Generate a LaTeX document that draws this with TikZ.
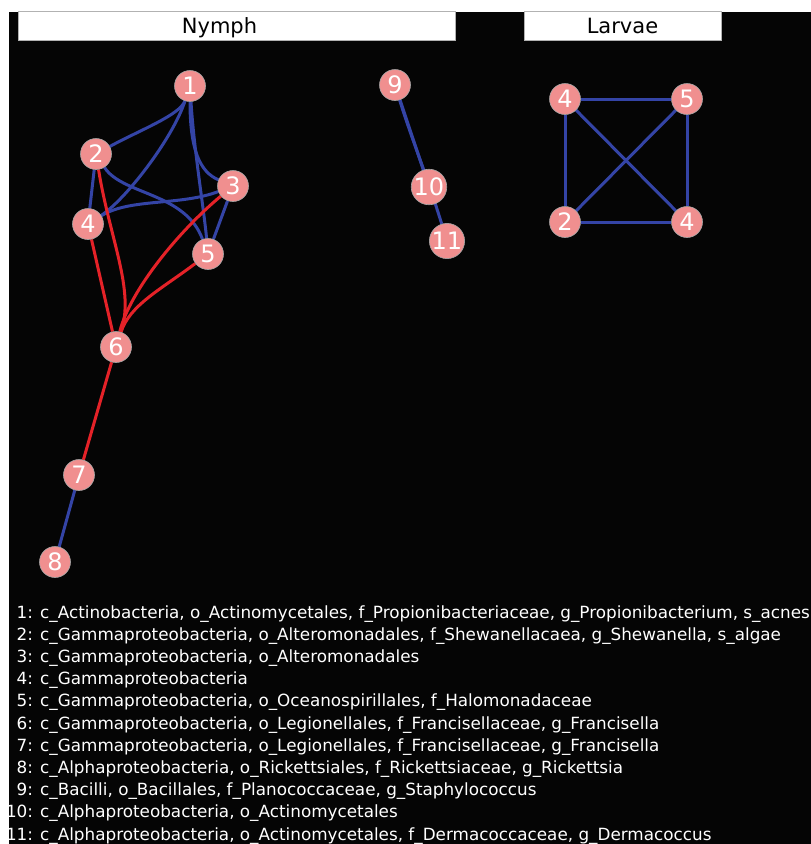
\documentclass[tikz,border=0pt]{standalone}
\usepackage{fontspec}
\setmainfont{DejaVu Sans}
\begin{document}
\begin{tikzpicture}[x=1pt,y=-1pt,
  otu/.style={circle,fill=nodepink,draw=gray!70,line width=0.6pt,minimum size=31pt,inner sep=0pt,
    text=white,font=\fontsize{24}{24}\selectfont},
  posedge/.style={draw=edgeblue,line width=3pt},
  negedge/.style={draw=edgered,line width=3pt},
  header/.style={fill=white,draw=gray!60,line width=0.5pt},
  legend/.style={anchor=base west,inner sep=0pt,text=white,font=\fontsize{16.8}{16.8}\selectfont}]
\definecolor{nodepink}{HTML}{F08F8F}
\definecolor{edgeblue}{HTML}{3444A6}
\definecolor{edgered}{HTML}{E52228}
\pgfdeclarelayer{edges}
\pgfdeclarelayer{back}
\pgfsetlayers{back,edges,main}

\useasboundingbox (0,0) rectangle (811,844);

\begin{pgfonlayer}{back}
  \fill[white] (0,0) rectangle (811,844);
  \fill[black!98] (9,12) rectangle (811,844);
  \draw[header] (18,11) rectangle (455.5,40);
  \draw[header] (524,11) rectangle (721.5,40);
\end{pgfonlayer}
\node[font=\fontsize{21}{21}\selectfont,anchor=base] (hnymph) at (219.5,33) {Nymph};
\node[font=\fontsize{21}{21}\selectfont,anchor=base] (hlarvae) at (622.5,33) {Larvae};

% nymph network
\node[otu] (n1) at (190,86) {1};
\node[otu] (n2) at (96,154) {2};
\node[otu] (n3) at (233,186) {3};
\node[otu] (n4) at (88,224) {4};
\node[otu] (n5) at (208,254) {5};
\node[otu] (n6) at (116,347) {6};
\node[otu] (n7) at (79,475) {7};
\node[otu] (n8) at (55,562) {8};
\node[otu] (n9) at (395,85) {9};
\node[otu] (n10) at (429,187) {10};
\node[otu] (n11) at (447,241) {11};

% larvae network
\node[otu] (l4a) at (565,99) {4};
\node[otu] (l5) at (687,99) {5};
\node[otu] (l2) at (565,222) {2};
\node[otu] (l4b) at (687,222) {4};

\begin{pgfonlayer}{edges}
  % positive associations
  \draw[posedge] (n2) .. controls (140,130) and (180,115) .. (n1);
  \draw[posedge] (n4) .. controls (125,200) and (172,140) .. (n1);
  \draw[posedge] (n1) .. controls (194,150) and (204,210) .. (n5);
  \draw[posedge] (n1) .. controls (190,150) and (200,172) .. (n3);
  \draw[posedge] (n2) .. controls (122,195) and (185,192) .. (n5);
  \draw[posedge] (n4) .. controls (130,198) and (180,206) .. (n3);
  \draw[posedge] (n2) -- (n4);
  \draw[posedge] (n3) -- (n5);
  \draw[posedge] (n7) -- (n8);
  \draw[posedge] (n9) .. controls (410,130) and (420,160) .. (n10);
  \draw[posedge] (n9) .. controls (412,140) and (425,170) .. (n11);
  % negative associations
  \draw[negedge] (n2) .. controls (110,240) and (135,290) .. (n6);
  \draw[negedge] (n4) -- (n6);
  \draw[negedge] (n3) .. controls (180,230) and (130,290) .. (n6);
  \draw[negedge] (n5) .. controls (160,290) and (130,305) .. (n6);
  \draw[negedge] (n6) -- (n7);
  % larvae edges
  \draw[posedge] (l4a) -- (l5);
  \draw[posedge] (l4a) -- (l2);
  \draw[posedge] (l4a) -- (l4b);
  \draw[posedge] (l5) -- (l2);
  \draw[posedge] (l5) -- (l4b);
  \draw[posedge] (l2) -- (l4b);
\end{pgfonlayer}

% taxonomy key
\foreach \k/\txt [count=\i from 0] in {
  1/{c\_Actinobacteria, o\_Actinomycetales, f\_Propionibacteriaceae, g\_Propionibacterium, s\_acnes},
  2/{c\_Gammaproteobacteria, o\_Alteromonadales, f\_Shewanellacaea, g\_Shewanella, s\_algae},
  3/{c\_Gammaproteobacteria, o\_Alteromonadales},
  4/{c\_Gammaproteobacteria},
  5/{c\_Gammaproteobacteria, o\_Oceanospirillales, f\_Halomonadaceae},
  6/{c\_Gammaproteobacteria, o\_Legionellales, f\_Francisellaceae, g\_Francisella},
  7/{c\_Gammaproteobacteria, o\_Legionellales, f\_Francisellaceae, g\_Francisella},
  8/{c\_Alphaproteobacteria, o\_Rickettsiales, f\_Rickettsiaceae, g\_Rickettsia},
  9/{c\_Bacilli, o\_Bacillales, f\_Planococcaceae, g\_Staphylococcus},
  10/{c\_Alphaproteobacteria, o\_Actinomycetales},
  11/{c\_Alphaproteobacteria, o\_Actinomycetales, f\_Dermacoccaceae, g\_Dermacoccus}}
  \node[legend] (key\k) at (40,618+22.2*\i) {\llap{\k: }\txt};
\end{tikzpicture}
\end{document}
